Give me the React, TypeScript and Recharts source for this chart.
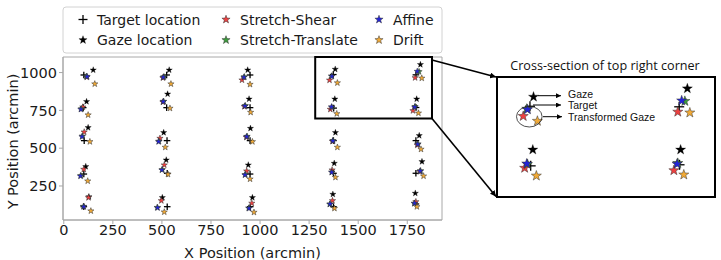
import React from 'react';
import { ScatterChart, Scatter, XAxis, YAxis, ReferenceArea } from 'recharts';

type Pair = [number, number];

// columns left to right, rows top to bottom (arcmin)
const targetPts: Pair[] = [
  [102, 984], [99, 768], [104, 550], [102, 329], [102, 113],
  [524, 984], [524, 768], [526, 550], [527, 334], [527, 113],
  [949, 984], [949, 768], [949, 550], [949, 329], [950, 113],
  [1373, 987], [1375, 765], [1374, 550], [1374, 334], [1374, 113],
  [1794, 985], [1795, 769], [1794, 550], [1794, 334], [1794, 131],
];

const gazePts: Pair[] = [
  [150, 1017], [116, 808], [124, 636], [112, 378], [128, 179],
  [537, 1017], [529, 858], [509, 603], [522, 422], [502, 173],
  [937, 1017], [944, 825], [951, 631], [940, 389], [961, 173],
  [1383, 1022], [1381, 825], [1384, 603], [1378, 400], [1371, 195],
  [1817, 1053], [1798, 825], [1811, 583], [1825, 411], [1791, 202],
];

const shearPts: Pair[] = [
  [117, 970], [97, 772], [104, 607], [102, 360], [126, 173],
  [505, 965], [505, 805], [490, 565], [512, 389], [497, 153],
  [908, 951], [920, 775], [930, 572], [932, 349], [958, 136],
  [1354, 950], [1358, 757], [1369, 545], [1367, 356], [1369, 153],
  [1790, 966], [1779, 748], [1801, 520], [1814, 345], [1794, 146],
];

const translatePts: Pair[] = [
  [115, 975], [90, 760], [95, 580], [87, 318], [100, 115],
  [510, 972], [509, 810], [485, 546], [502, 358], [476, 108],
  [920, 972], [925, 781], [934, 578], [925, 325], [942, 104],
  [1364, 977], [1366, 771], [1372, 550], [1366, 342], [1355, 129],
  [1810, 1006], [1790, 775], [1805, 528], [1818, 350], [1786, 134],
];

const affinePts: Pair[] = [
  [119, 973], [87, 757], [93, 576], [85, 316], [102, 113],
  [507, 969], [507, 808], [483, 543], [500, 356], [478, 106],
  [918, 969], [923, 779], [932, 576], [923, 323], [944, 102],
  [1366, 975], [1364, 773], [1371, 548], [1365, 340], [1357, 131],
  [1801, 1008], [1788, 772], [1803, 526], [1816, 349], [1787, 136],
];

const driftPts: Pair[] = [
  [158, 925], [124, 720], [133, 543], [122, 283], [138, 85],
  [546, 925], [541, 764], [517, 506], [531, 327], [512, 78],
  [949, 922], [952, 737], [961, 543], [949, 296], [969, 76],
  [1394, 932], [1391, 728], [1394, 506], [1384, 307], [1379, 102],
  [1824, 963], [1807, 732], [1820, 493], [1833, 316], [1799, 113],
];

const xTicks = [0, 250, 500, 750, 1000, 1250, 1500, 1750];
const yTicks = [250, 500, 750, 1000];

const mainX: [number, number] = [-4, 1927];
const mainY: [number, number] = [25, 1103];
const zoomBox = { x1: 1281, x2: 1876, y1: 696, y2: 1103 };
const insetX: [number, number] = [1280, 1895];
const insetY: [number, number] = [649, 1096];

const series = [
  { name: 'Target location', pts: targetPts, kind: 'cross', color: '#000000' },
  { name: 'Gaze location', pts: gazePts, kind: 'star', color: '#000000' },
  { name: 'Stretch-Shear', pts: shearPts, kind: 'star', color: '#ee4040' },
  { name: 'Stretch-Translate', pts: translatePts, kind: 'star', color: '#3c9c3c' },
  { name: 'Affine', pts: affinePts, kind: 'star', color: '#2424d8' },
  { name: 'Drift', pts: driftPts, kind: 'star', color: '#f2aa36' },
];

const toRows = (pts: Pair[]) => pts.map(([x, y]) => ({ x, y }));

const Star = ({ cx, cy, r, fill }: { cx: number; cy: number; r: number; fill: string }) => {
  const pts: string[] = [];
  for (let i = 0; i < 10; i++) {
    const rad = i % 2 === 0 ? r : r * 0.4;
    const a = -Math.PI / 2 + (i * Math.PI) / 5;
    pts.push(`${cx + rad * Math.cos(a)},${cy + rad * Math.sin(a)}`);
  }
  const dark = fill === '#000000';
  return (
    <polygon
      points={pts.join(' ')}
      fill={fill}
      stroke={dark ? '#000' : '#333'}
      strokeWidth={dark ? 0.3 : 0.5}
    />
  );
};

const Cross = ({ cx, cy, r }: { cx: number; cy: number; r: number }) => (
  <g stroke="#000" strokeWidth={1.3}>
    <line x1={cx - r} y1={cy} x2={cx + r} y2={cy} />
    <line x1={cx} y1={cy - r} x2={cx} y2={cy + r} />
  </g>
);

const marker = (kind: string, color: string, starR: number, crossR: number) => (p: any) =>
  kind === 'cross' ? (
    <Cross cx={p.cx} cy={p.cy} r={crossR} />
  ) : (
    <Star cx={p.cx} cy={p.cy} r={starR} fill={color} />
  );

// rotated y axis title, centred on the plot height
const YTitle = (props: any) => {
  const vb = props.viewBox || { x: 0, y: 57, width: 63, height: 163 };
  const cx = vb.x + 13;
  const cy = vb.y + vb.height / 2 + 3;
  return (
    <text
      x={cx}
      y={cy}
      transform={`rotate(-90 ${cx} ${cy})`}
      textAnchor="middle"
      dominantBaseline="central"
      fontSize={14.5}
      fill="#1a1a1a"
    >
      Y Position (arcmin)
    </text>
  );
};

const axisGray = '#a8a8a8';
const legendFont = 14;

const App = () => {
  return (
    <div
      style={{
        position: 'absolute',
        left: 0,
        top: 0,
        width: 721,
        height: 260,
        background: '#fff',
        fontFamily: '"DejaVu Sans", sans-serif',
      }}
    >
      <ScatterChart width={721} height={260} margin={{ top: 57, right: 279, bottom: 0, left: 0 }}>
        <XAxis
          type="number"
          dataKey="x"
          domain={mainX}
          ticks={xTicks}
          allowDataOverflow
          height={40}
          tickSize={4}
          tickMargin={0.5}
          axisLine={{ stroke: axisGray }}
          tickLine={{ stroke: axisGray }}
          tick={{ fill: '#1a1a1a', fontSize: 14.5 }}
          label={{ value: 'X Position (arcmin)', position: 'insideBottom', offset: 2, fill: '#1a1a1a', fontSize: 14.5 }}
        />
        <YAxis
          type="number"
          dataKey="y"
          domain={mainY}
          ticks={yTicks}
          allowDataOverflow
          width={63}
          tickSize={4}
          tickMargin={2}
          axisLine={{ stroke: axisGray }}
          tickLine={{ stroke: axisGray }}
          tick={{ fill: '#1a1a1a', fontSize: 14.5 }}
          label={<YTitle />}
        />
        <ReferenceArea x1={mainX[0]} x2={mainX[1]} y1={mainY[0]} y2={mainY[1]} fill="none" stroke={axisGray} strokeWidth={1} />
        {series.map((s) => (
          <Scatter
            key={s.name}
            name={s.name}
            data={toRows(s.pts)}
            shape={marker(s.kind, s.color, 3.3, 3.3)}
            isAnimationActive={false}
          />
        ))}
        <ReferenceArea {...zoomBox} fill="none" stroke="#000" strokeWidth={2} />
      </ScatterChart>

      <div style={{ position: 'absolute', left: 497, top: 77 }}>
        <ScatterChart width={218} height={120} margin={{ top: 0, right: 0, bottom: 0, left: 0 }}>
          <XAxis type="number" dataKey="x" domain={insetX} allowDataOverflow hide />
          <YAxis type="number" dataKey="y" domain={insetY} allowDataOverflow hide />
          {series.map((s) => (
            <Scatter
              key={s.name}
              name={s.name}
              data={toRows(s.pts).filter(
                (d) => d.x >= insetX[0] && d.x <= insetX[1] && d.y >= insetY[0] && d.y <= insetY[1]
              )}
              shape={marker(s.kind, s.color, 5.3, 5)}
              isAnimationActive={false}
            />
          ))}
        </ScatterChart>
      </div>

      <svg width={721} height={260} style={{ position: 'absolute', left: 0, top: 0, pointerEvents: 'none' }}>
        <defs>
          <marker id="tip" viewBox="0 0 6 6" refX="6" refY="3" markerWidth="6" markerHeight="6" markerUnits="userSpaceOnUse" orient="auto">
            <path d="M0,0 L6,3 L0,6 z" fill="#000" />
          </marker>
          <marker id="tip2" viewBox="0 0 6 6" refX="6" refY="3" markerWidth="5" markerHeight="5" markerUnits="userSpaceOnUse" orient="auto">
            <path d="M0,0 L6,3 L0,6 z" fill="#000" />
          </marker>
        </defs>

        {/* legend */}
        <rect x={63} y={7} width={379} height={46} rx={3} fill="#fff" stroke="#d2d2d2" />
        <Cross cx={83} cy={19.5} r={4.5} />
        <text x={97} y={19.5} fontSize={legendFont} dominantBaseline="central" fill="#1a1a1a">Target location</text>
        <Star cx={83} cy={40} r={4.3} fill="#000000" />
        <text x={97} y={40} fontSize={legendFont} dominantBaseline="central" fill="#1a1a1a">Gaze location</text>
        <Star cx={226} cy={19.5} r={4.3} fill={series[2].color} />
        <text x={240} y={19.5} fontSize={legendFont} dominantBaseline="central" fill="#1a1a1a">Stretch-Shear</text>
        <Star cx={226} cy={40} r={4.3} fill={series[3].color} />
        <text x={240} y={40} fontSize={legendFont} dominantBaseline="central" fill="#1a1a1a">Stretch-Translate</text>
        <Star cx={379} cy={19.5} r={4.3} fill={series[4].color} />
        <text x={393} y={19.5} fontSize={legendFont} dominantBaseline="central" fill="#1a1a1a">Affine</text>
        <Star cx={379} cy={40} r={4.3} fill={series[5].color} />
        <text x={393} y={40} fontSize={legendFont} dominantBaseline="central" fill="#1a1a1a">Drift</text>

        {/* connectors from zoom box to inset */}
        <line x1={432} y1={60} x2={496} y2={77} stroke="#000" strokeWidth={1.6} markerEnd="url(#tip)" />
        <line x1={432} y1={118.5} x2={496} y2={196.5} stroke="#000" strokeWidth={1.6} markerEnd="url(#tip)" />

        {/* inset frame and title */}
        <rect x={497} y={77} width={218} height={120} fill="none" stroke="#000" strokeWidth={2} />
        <text x={605} y={65} fontSize={12.6} textAnchor="middle" dominantBaseline="central" fontFamily="'Open Sans', sans-serif" fill="#111">
          Cross-section of top right corner
        </text>

        {/* inset annotations */}
        <g fontFamily="'Liberation Sans', sans-serif" fontSize={10.5} fill="#111">
          <line x1={538} y1={95.7} x2={561} y2={95.7} stroke="#000" strokeWidth={1} markerEnd="url(#tip2)" />
          <text x={568} y={94} dominantBaseline="central">Gaze</text>
          <line x1={533} y1={105} x2={561} y2={105} stroke="#000" strokeWidth={1} markerEnd="url(#tip2)" />
          <text x={568} y={105.4} dominantBaseline="central">Target</text>
          <line x1={543} y1={116.7} x2={562} y2={116.7} stroke="#000" strokeWidth={1} markerEnd="url(#tip2)" />
          <text x={568} y={116.8} dominantBaseline="central">Transformed Gaze</text>
          <ellipse cx={529.3} cy={116.7} rx={12.8} ry={10.3} fill="none" stroke="#222" strokeWidth={0.8} />
        </g>
      </svg>
    </div>
  );
};

export default App;
